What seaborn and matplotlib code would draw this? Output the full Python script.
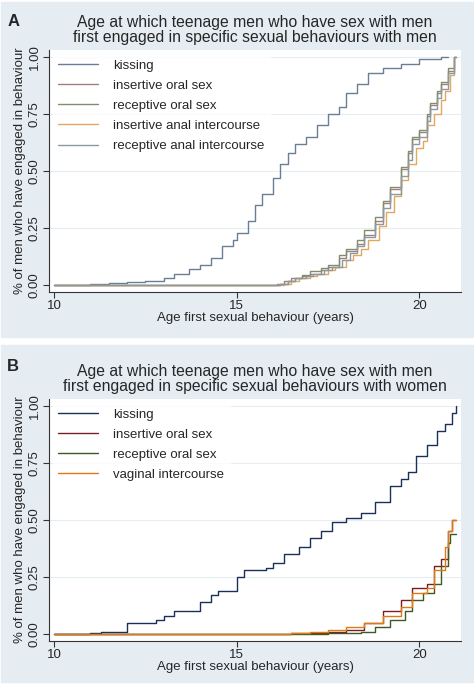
import pandas as pd
import matplotlib.pyplot as plt
import seaborn as sns
from matplotlib.patches import Rectangle

sns.set_theme(style='white')
plt.rcParams['font.family'] = ['Liberation Sans', 'DejaVu Sans']

# --- panel A: with men (age, cumulative proportion) ---
a_kiss_age = [10, 11.0, 11.5, 12.0, 12.5, 13.0, 13.3, 13.7, 14.0, 14.3, 14.6, 14.9, 15.0, 15.3, 15.5, 15.7,
              16.0, 16.2, 16.4, 16.6, 16.9, 17.2, 17.5, 17.8, 18.0, 18.3, 18.6, 19.0, 19.5, 20.0, 20.6, 20.8]
a_kiss_val = [0, 0.005, 0.01, 0.015, 0.02, 0.03, 0.05, 0.07, 0.09, 0.12, 0.17, 0.20, 0.23, 0.28, 0.35, 0.40,
              0.47, 0.53, 0.58, 0.62, 0.65, 0.70, 0.75, 0.78, 0.84, 0.88, 0.93, 0.95, 0.97, 0.99, 1.0, 1.0]
a_ins_oral_age = [10, 16.1, 16.3, 16.5, 16.8, 17.0, 17.3, 17.5, 17.8, 18.0, 18.3, 18.5, 18.8, 19.0, 19.2, 19.5,
                  19.7, 19.8, 20.0, 20.2, 20.3, 20.5, 20.6, 20.8, 20.95, 21.0]
a_ins_oral_val = [0, 0.005, 0.02, 0.03, 0.04, 0.05, 0.065, 0.08, 0.12, 0.15, 0.18, 0.22, 0.28, 0.36, 0.42, 0.51,
                  0.58, 0.64, 0.67, 0.74, 0.79, 0.84, 0.88, 0.94, 1.0, 1.0]
a_rec_oral_age = [10, 16.2, 16.4, 16.6, 16.8, 17.0, 17.3, 17.5, 17.8, 18.0, 18.3, 18.5, 18.8, 19.0, 19.2, 19.5,
                  19.7, 19.8, 20.0, 20.2, 20.3, 20.5, 20.6, 20.8, 20.95, 21.0]
a_rec_oral_val = [0, 0.005, 0.02, 0.03, 0.045, 0.06, 0.075, 0.09, 0.13, 0.16, 0.20, 0.24, 0.30, 0.37, 0.43, 0.52,
                  0.59, 0.65, 0.68, 0.75, 0.80, 0.85, 0.89, 0.95, 1.0, 1.0]
a_ins_anal_age = [10, 16.3, 16.5, 16.7, 17.0, 17.2, 17.5, 17.7, 18.0, 18.2, 18.4, 18.6, 18.9, 19.1, 19.3, 19.5,
                  19.7, 19.9, 20.1, 20.2, 20.4, 20.6, 20.7, 20.85, 20.95, 21.0]
a_ins_anal_val = [0, 0.005, 0.02, 0.03, 0.04, 0.05, 0.065, 0.08, 0.11, 0.13, 0.16, 0.20, 0.26, 0.32, 0.39, 0.46,
                  0.53, 0.60, 0.63, 0.70, 0.75, 0.81, 0.85, 0.92, 1.0, 1.0]
a_rec_anal_age = [10, 16.2, 16.4, 16.6, 16.9, 17.1, 17.4, 17.6, 17.9, 18.1, 18.3, 18.5, 18.8, 19.0, 19.2, 19.5,
                  19.7, 19.8, 20.0, 20.2, 20.3, 20.5, 20.6, 20.8, 20.95, 21.0]
a_rec_anal_val = [0, 0.005, 0.02, 0.03, 0.04, 0.05, 0.065, 0.08, 0.11, 0.14, 0.17, 0.21, 0.27, 0.34, 0.40, 0.48,
                  0.55, 0.62, 0.65, 0.72, 0.77, 0.82, 0.86, 0.93, 1.0, 1.0]

# --- panel B: with women ---
b_kiss_age = [10, 11.0, 11.3, 12.0, 12.8, 13.0, 13.3, 14.0, 14.3, 14.5, 15.0, 15.2, 15.8, 16.0, 16.3, 16.7,
              17.0, 17.3, 17.6, 18.0, 18.4, 18.8, 19.2, 19.5, 19.7, 19.9, 20.2, 20.5, 20.7, 20.9, 21.0]
b_kiss_val = [0, 0.005, 0.01, 0.05, 0.06, 0.08, 0.10, 0.14, 0.17, 0.19, 0.25, 0.28, 0.29, 0.31, 0.35, 0.38,
              0.42, 0.45, 0.49, 0.51, 0.53, 0.58, 0.65, 0.68, 0.71, 0.78, 0.83, 0.89, 0.92, 0.97, 1.0]
b_ins_oral_age = [10, 16.5, 17.5, 18.0, 18.5, 19.0, 19.5, 19.8, 20.2, 20.4, 20.6, 20.8, 20.9, 21.0]
b_ins_oral_val = [0, 0.005, 0.01, 0.02, 0.05, 0.10, 0.15, 0.20, 0.22, 0.30, 0.33, 0.45, 0.50, 0.50]
b_rec_oral_age = [10, 17.5, 18.4, 18.8, 19.2, 19.6, 19.8, 20.1, 20.4, 20.6, 20.8, 20.85, 21.0]
b_rec_oral_val = [0, 0.005, 0.01, 0.03, 0.06, 0.10, 0.15, 0.18, 0.22, 0.30, 0.40, 0.44, 0.44]
b_vag_age = [10, 16.5, 17.0, 17.5, 18.0, 18.5, 19.0, 19.5, 19.8, 20.2, 20.4, 20.7, 20.8, 20.9, 21.0]
b_vag_val = [0, 0.005, 0.01, 0.02, 0.03, 0.05, 0.08, 0.12, 0.18, 0.20, 0.28, 0.38, 0.45, 0.50, 0.50]

panel_a = [('kissing', a_kiss_age, a_kiss_val, '#6a7f95'),
           ('insertive oral sex', a_ins_oral_age, a_ins_oral_val, '#a57c80'),
           ('receptive oral sex', a_rec_oral_age, a_rec_oral_val, '#7f8f6c'),
           ('insertive anal intercourse', a_ins_anal_age, a_ins_anal_val, '#e0a860'),
           ('receptive anal intercourse', a_rec_anal_age, a_rec_anal_val, '#8a9aa0')]
panel_b = [('kissing', b_kiss_age, b_kiss_val, '#1a2f5a'),
           ('insertive oral sex', b_ins_oral_age, b_ins_oral_val, '#7a1f25'),
           ('receptive oral sex', b_rec_oral_age, b_rec_oral_val, '#3d5a25'),
           ('vaginal intercourse', b_vag_age, b_vag_val, '#e07a10')]

BG = '#e6edf2'
fig = plt.figure(figsize=(4.74, 6.87), dpi=100)
fig.patch.set_facecolor('white')
fig.patches.append(Rectangle((0.002, 0.51), 0.996, 0.487, transform=fig.transFigure, color=BG, zorder=-1))
fig.patches.append(Rectangle((0.002, 0.008), 0.996, 0.49, transform=fig.transFigure, color=BG, zorder=-1))


def draw(ax, series, title):
    rows = []
    for name, ages, vals, _ in series:
        for x, y in zip(ages, vals):
            rows.append({'age': x, 'prop': y, 'behaviour': name})
    df = pd.DataFrame(rows)
    pal = {name: c for name, _, _, c in series}
    sns.lineplot(data=df, x='age', y='prop', hue='behaviour', palette=pal, ax=ax,
                 estimator=None, sort=False, drawstyle='steps-post', linewidth=1.0)
    ax.set_facecolor('white')
    ax.set_xlim(9.86, 21.15)
    ax.set_ylim(-0.03, 1.03)
    ax.set_xticks([10, 15, 20])
    ax.set_yticks([0, 0.25, 0.5, 0.75, 1.0])
    ax.set_yticklabels(['0.00', '0.25', '0.50', '0.75', '1.00'], rotation=90, va='center')
    for y in [0.25, 0.5, 0.75, 1.0]:
        ax.axhline(y, color='#e6edf2', lw=0.8, zorder=0)
    for s in ['top', 'right']:
        ax.spines[s].set_visible(False)
    for s in ['left', 'bottom']:
        ax.spines[s].set_color('#333333')
        ax.spines[s].set_linewidth(0.8)
    ax.tick_params(axis='both', length=4, width=0.8, color='#333333', labelsize=9.5, pad=2, left=True, bottom=True)
    ax.set_xlabel('Age first sexual behaviour (years)', fontsize=9.5, labelpad=0)
    ax.set_ylabel('% of men who have engaged in behaviour', fontsize=9.5, labelpad=2)
    ax.set_title(title, fontsize=11.3, pad=6, linespacing=1.0)
    leg = ax.legend(loc='upper left', fontsize=9.5, frameon=True, fancybox=False, handlelength=3.0,
                    borderaxespad=0.3, labelspacing=0.6, handletextpad=1.2)
    leg.get_frame().set_edgecolor('white')
    leg.get_frame().set_facecolor('white')


ax1 = fig.add_axes([0.103, 0.575, 0.87, 0.352])
ax2 = fig.add_axes([0.103, 0.067, 0.87, 0.352])
draw(ax1, panel_a, 'Age at which teenage men who have sex with men\nfirst engaged in specific sexual behaviours with men')
draw(ax2, panel_b, 'Age at which teenage men who have sex with men\nfirst engaged in specific sexual behaviours with women')
fig.text(0.015, 0.962, 'A', fontsize=12, fontweight='bold')
fig.text(0.015, 0.46, 'B', fontsize=12, fontweight='bold')

fig.savefig('out.png', dpi=100)
